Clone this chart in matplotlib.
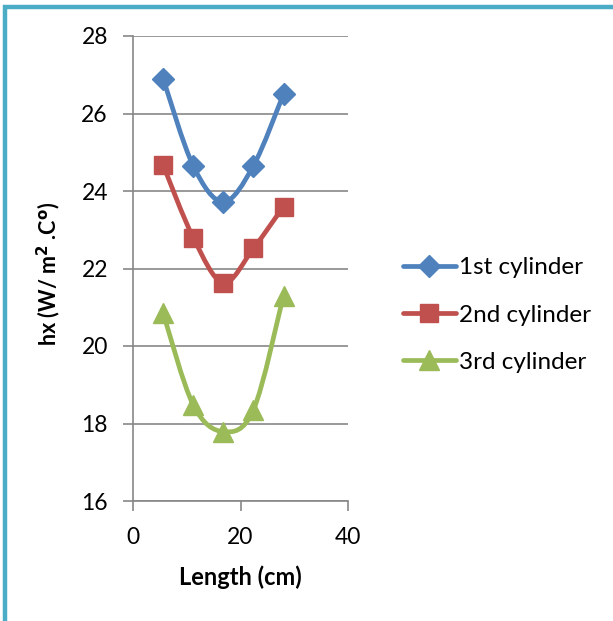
import numpy as np
import matplotlib.pyplot as plt
from matplotlib.path import Path
from matplotlib.patches import PathPatch, Rectangle
from matplotlib.lines import Line2D

# data
length_cm = [5.6, 11.2, 16.8, 22.4, 28.0]
hx_1st = [26.9, 24.65, 23.72, 24.65, 26.5]
hx_2nd = [24.67, 22.8, 21.63, 22.52, 23.6]
hx_3rd = [20.85, 18.48, 17.79, 18.35, 21.3]

series_names = ["1st cylinder", "2nd cylinder", "3rd cylinder"]
colors = ["#4F81BD", "#C0504D", "#9BBB59"]
markers = ["D", "s", "^"]
msizes = [11, 13, 14]

plt.rcParams['font.family'] = ['Lato', 'DejaVu Sans']


def smooth_path(xs, ys):
    # Excel-like smoothed line: cubic bezier through the points
    p = np.column_stack([xs, ys])
    n = len(p)
    verts = [p[0]]
    codes = [Path.MOVETO]
    for i in range(n - 1):
        p0 = p[i - 1] if i > 0 else p[i]
        p1 = p[i]
        p2 = p[i + 1]
        p3 = p[i + 2] if i + 2 < n else p[i + 1]
        c1 = p1 + (p2 - p0) / 6.0
        c2 = p2 - (p3 - p1) / 6.0
        verts += [c1, c2, p2]
        codes += [Path.CURVE4] * 3
    return Path(verts, codes)


fig = plt.figure(figsize=(6.13, 6.21), dpi=100)
ax = fig.add_axes([133 / 613, 1 - 501 / 621, 215 / 613, 465 / 621])

for ys, c, m, ms, name in zip([hx_1st, hx_2nd, hx_3rd], colors, markers, msizes, series_names):
    ax.add_patch(PathPatch(smooth_path(length_cm, ys), fill=False, edgecolor=c,
                           linewidth=3.4, capstyle='round', joinstyle='round', zorder=3))
    ax.plot(length_cm, ys, linestyle='none', marker=m, markersize=ms, color=c,
            markeredgecolor=c, zorder=4, label=name)

ax.set_xlim(0, 40)
ax.set_ylim(16, 28)
ax.set_xticks([0, 20, 40])
ax.set_yticks(np.arange(16, 29, 2))
ax.yaxis.grid(True, color="#878787", linewidth=1.2)
ax.set_axisbelow(True)
for s in ["top", "right"]:
    ax.spines[s].set_visible(False)
for s in ["left", "bottom"]:
    ax.spines[s].set_color("#878787")
    ax.spines[s].set_linewidth(1.2)
ax.tick_params(axis='both', length=7, width=1.2, color="#878787", labelsize=16.5, direction='out')
ax.tick_params(axis='y', pad=11)
ax.tick_params(axis='x', pad=12)

fig.text(240 / 613, 1 - 577 / 621, "Length (cm)", ha='center', va='center',
         fontsize=17, fontweight='bold')
fig.text(49 / 613, 1 - 274 / 621, r"hx (W/ m$^{\mathbf{2}}$ .C$^{\mathbf{o}}$)", ha='center', va='center',
         rotation=90, fontsize=15.5, fontweight='bold')

handles = [Line2D([0], [0], color=c, marker=m, markersize=ms, linewidth=3.4,
                  solid_capstyle='round') for c, m, ms in zip(colors, markers, msizes)]
fig.legend(handles, series_names, loc='center left', bbox_to_anchor=(393 / 613, 1 - 315 / 621),
           frameon=False, fontsize=17.5, handlelength=2.2, handletextpad=0.1,
           labelspacing=1.08, borderaxespad=0)

# chart frame
fig.patches.append(Rectangle((5.5 / 613, -0.1), 1.2, 1 - 7 / 621 + 0.1, transform=fig.transFigure,
                             fill=False, edgecolor="#4BACC6", linewidth=3.2, zorder=10))

fig.savefig("out.png", dpi=100)
